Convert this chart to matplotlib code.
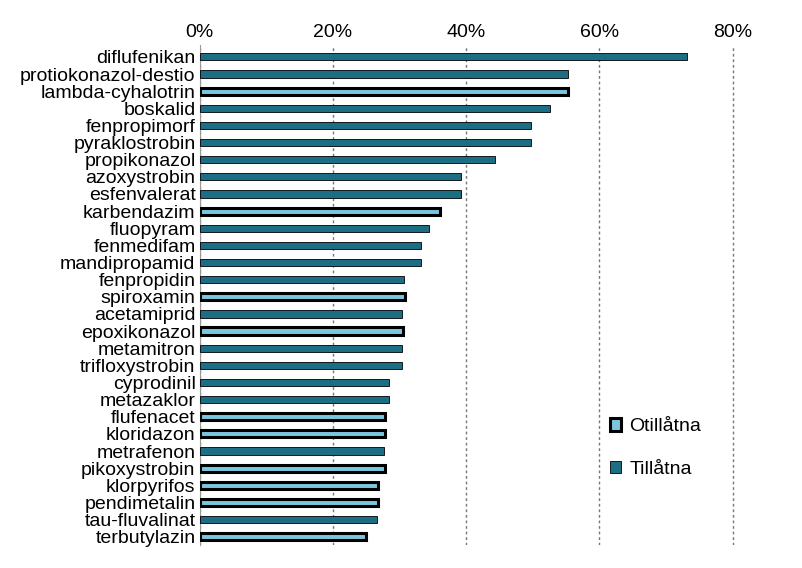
import matplotlib
matplotlib.use("Agg")
import matplotlib.pyplot as plt
from matplotlib.patches import Patch

categories = ["diflufenikan","protiokonazol-destio","lambda-cyhalotrin","boskalid","fenpropimorf",
 "pyraklostrobin","propikonazol","azoxystrobin","esfenvalerat","karbendazim","fluopyram","fenmedifam",
 "mandipropamid","fenpropidin","spiroxamin","acetamiprid","epoxikonazol","metamitron","trifloxystrobin",
 "cyprodinil","metazaklor","flufenacet","kloridazon","metrafenon","pikoxystrobin","klorpyrifos",
 "pendimetalin","tau-fluvalinat","terbutylazin"]
values = [73.2,55.3,55.3,52.6,49.8,49.8,44.4,39.2,39.2,36.0,34.4,33.2,33.2,30.6,30.8,30.3,30.5,30.3,30.3,
 28.4,28.4,27.8,27.8,27.7,27.8,26.8,26.8,26.6,25.0]
status = ["T","T","O","T","T","T","T","T","T","O","T","T","T","T","O","T","O","T","T",
 "T","T","O","O","T","O","O","O","T","O"]

plt.rcParams["font.family"] = "Liberation Sans"
fig = plt.figure(figsize=(8.02,5.68), dpi=100)
ax = fig.add_axes([0.249,0.04,0.667,0.881])
n = len(categories)
ys = list(range(n))
for y, v, s in zip(ys, values, status):
    if s == "O":
        ax.barh(y, v, height=0.42, color="#7CC5DE", edgecolor="black", linewidth=2.2, zorder=3)
    else:
        ax.barh(y, v, height=0.42, color="#1B6E84", edgecolor="black", linewidth=0.6, zorder=3)
ax.set_ylim(n-0.5, -0.7)
ax.set_xlim(0, 80.3)
ax.set_yticks(ys)
ax.set_yticklabels(categories, fontsize=14)
ax.xaxis.tick_top()
ax.set_xticks(range(0,81,20))
ax.set_xticklabels([f"{t}%" for t in range(0,81,20)], fontsize=14)
ax.tick_params(length=0, pad=3)
ax.grid(axis="x", linestyle=(0,(2,2)), color="#777777", linewidth=1.0, zorder=0)
for s in ["top","right","bottom"]:
    ax.spines[s].set_visible(False)
ax.spines["left"].set_color("#999999")
handles = [Patch(facecolor="#7CC5DE", edgecolor="black", linewidth=2.2, label="Otillåtna"),
           Patch(facecolor="#1B6E84", edgecolor="black", linewidth=0.6, label="Tillåtna")]
ax.legend(handles=handles, loc="lower right", bbox_to_anchor=(0.97,0.1), frameon=False,
          prop={"size":14}, handlelength=0.6, handleheight=0.6,
          labelspacing=1.3, handletextpad=0.4)
fig.savefig("out.png", dpi=100)
